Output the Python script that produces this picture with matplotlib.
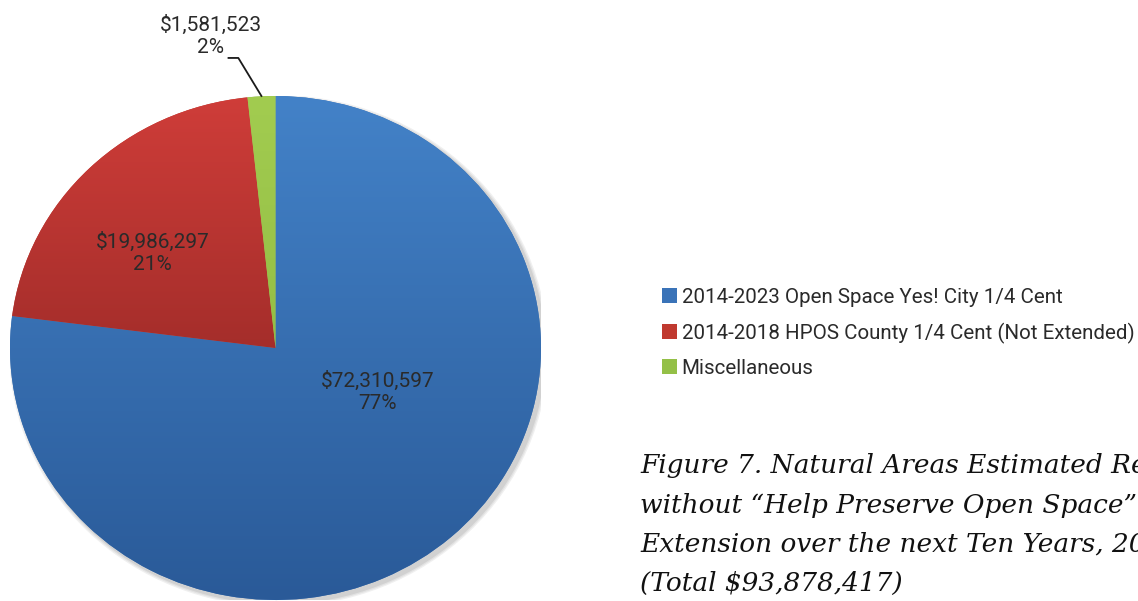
import matplotlib
matplotlib.use("Agg")
import matplotlib.pyplot as plt
import numpy as np
from matplotlib.patches import Patch, Ellipse
from matplotlib.colors import LinearSegmentedColormap

# data
categories = ['2014-2023 Open Space Yes! City 1/4 Cent',
              '2014-2018 HPOS County 1/4 Cent (Not Extended)',
              'Miscellaneous']
values = [72310597, 19986297, 1581523]
# gradient colours (top, bottom) per slice
top_colors = ['#4382C8', '#CF3D39', '#A2CC50']
bottom_colors = ['#2A5A98', '#7A1E1C', '#86B03A']
legend_colors = ['#3A73B8', '#C0392F', '#94C047']
caption = ['Figure 7. Natural Areas Estimated Revenue',
           'without \u201cHelp Preserve Open Space\u201d Tax',
           'Extension over the next Ten Years, 2014-2023',
           '(Total \\$93,878,417)']

W, H = 1138, 601
fig = plt.figure(figsize=(W / 100, H / 100), dpi=100)
fig.patch.set_facecolor('white')

sans = ['Roboto', 'DejaVu Sans']
txt_color = '#2a2a2a'

# pie axes (slightly wider than tall, like the source)
ax = fig.add_axes([10 / W, 1 / H, 531 / W, 504 / H])

# soft shadow
for k, a in enumerate([0.08, 0.08, 0.1]):
    sh = Ellipse((0.012, -0.012), 2.0 + 0.01 * (3 - k), 2.0 + 0.01 * (3 - k),
                 facecolor='#404040', edgecolor='none', alpha=a, zorder=0)
    ax.add_patch(sh)

wedges, _ = ax.pie(values, startangle=90, counterclock=False, radius=1,
                   colors=legend_colors, wedgeprops=dict(linewidth=0))

grad = np.linspace(1, 0, 256).reshape(-1, 1)
for w, c_top, c_bot in zip(wedges, top_colors, bottom_colors):
    cmap = LinearSegmentedColormap.from_list('g', [c_bot, c_top])
    im = ax.imshow(grad, extent=(-1, 1, -1, 1), cmap=cmap, vmin=0, vmax=1,
                   aspect='auto', zorder=2, interpolation='bilinear')
    im.set_clip_path(w)

ax.set_xlim(-1, 1)
ax.set_ylim(-1, 1)
ax.set_aspect('auto')
ax.axis('off')

# data labels
total = sum(values)
pct = [round(v / total * 100) for v in values]
lab_kw = dict(ha='center', va='center', fontsize=15, family=sans, color=txt_color,
              linespacing=1.2, zorder=5)
ax.text(0.385, -0.175, '\\${:,}\n{}%'.format(values[0], pct[0]), **lab_kw)
ax.text(-0.464, 0.377, '\\${:,}\n{}%'.format(values[1], pct[1]), **lab_kw)
ax.text(-0.245, 1.24, '\\${:,}\n{}%'.format(values[2], pct[2]), clip_on=False, **lab_kw)
ax.plot([-0.177, -0.14, -0.053], [1.151, 1.151, 1.0], color='#1a1a1a', lw=1.3,
        clip_on=False, zorder=5)

# legend
handles = [Patch(facecolor=c, edgecolor='none') for c in legend_colors]
fig.legend(handles, categories, loc='upper left', bbox_to_anchor=(662 / W, 1 - 288 / H),
           frameon=False, prop=dict(family=sans, size=14.8), labelcolor=txt_color,
           handlelength=0.75, handleheight=0.75, handletextpad=0.2, labelspacing=0.75,
           borderaxespad=0, borderpad=0)

# caption (runs off the right edge, as in the source page)
for i, line in enumerate(caption):
    fig.text(640 / W, 1 - (466 + i * 39) / H, line, ha='left', va='center', fontsize=19,
             family='DejaVu Serif', style='italic', color='#111111')

fig.savefig('out.png', dpi=100)
